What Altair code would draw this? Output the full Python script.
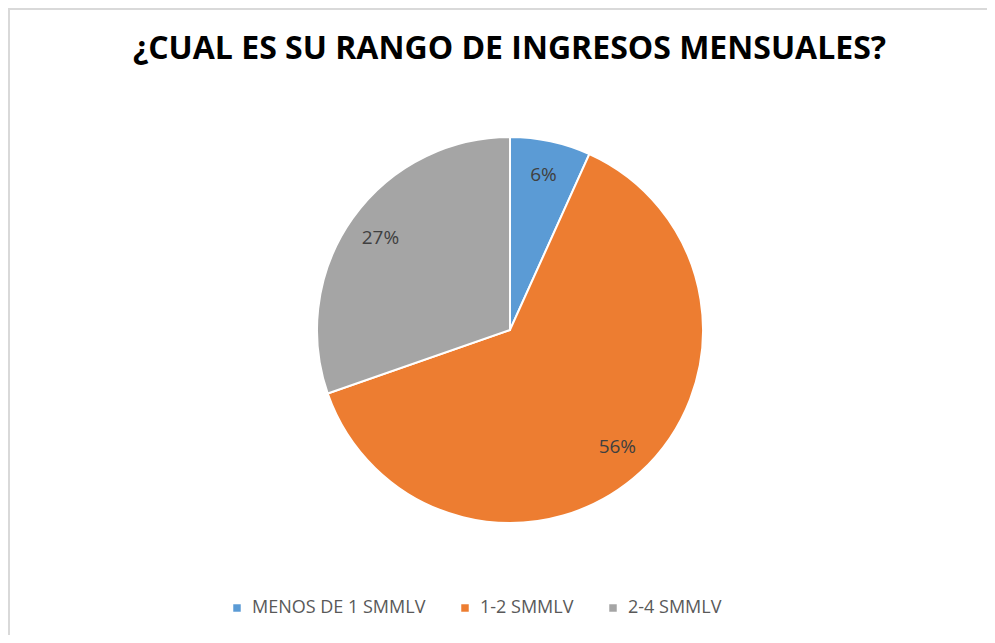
import altair as alt
import pandas as pd

categories = ["MENOS DE 1 SMMLV", "1-2 SMMLV", "2-4 SMMLV"]
values = [6, 56, 27]
labels = ["6%", "56%", "27%"]
colors = ["#5B9BD5", "#ED7D31", "#A5A5A5"]

df = pd.DataFrame({
    "cat": categories,
    "val": values,
    "lab": labels,
    "ord": list(range(len(categories))),
})

color = alt.Color(
    "cat:N",
    scale=alt.Scale(domain=categories, range=colors),
    sort=categories,
    legend=alt.Legend(
        title=None,
        orient="none",
        legendX=220,
        legendY=591,
        direction="horizontal",
        symbolType="square",
        symbolSize=56,
        symbolStrokeWidth=0,
        labelFontSize=18,
        labelColor="#595959",
        labelFont="Open Sans",
        labelLimit=400,
        columnPadding=30,
        labelOffset=6,
    ),
)

base = alt.Chart(df).encode(
    theta=alt.Theta("val:Q", stack=True),
    order=alt.Order("ord:Q"),
    x=alt.value(502),
    y=alt.value(322),
)

pie = base.mark_arc(outerRadius=193, stroke="white", strokeWidth=2).encode(color=color)
text = base.mark_text(radius=159, fontSize=19, color="#404040", font="Open Sans").encode(
    text="lab:N"
)

border_left = alt.Chart(df).mark_rule(color="#D9D9D9", strokeWidth=2).encode(
    x=alt.value(1), y=alt.value(0), y2=alt.value(627)
)
border_top = alt.Chart(df).mark_rule(color="#D9D9D9", strokeWidth=2).encode(
    x=alt.value(0), x2=alt.value(979), y=alt.value(1)
)

chart = (
    alt.layer(border_left, border_top, pie, text)
    .properties(
        width=979,
        height=627,
        autosize=alt.AutoSizeParams(type="none"),
        padding=0,
        title=alt.TitleParams(
            "¿CUAL ES SU RANGO DE INGRESOS MENSUALES?",
            font="Open Sans",
            fontSize=32,
            fontWeight="bold",
            color="#000000",
            anchor="middle",
            dx=12,
            dy=63,
        ),
    )
    .configure_view(stroke=None)
    .configure(background="white")
)

chart.save("out.html", embed_options={"renderer": "svg", "actions": False})
